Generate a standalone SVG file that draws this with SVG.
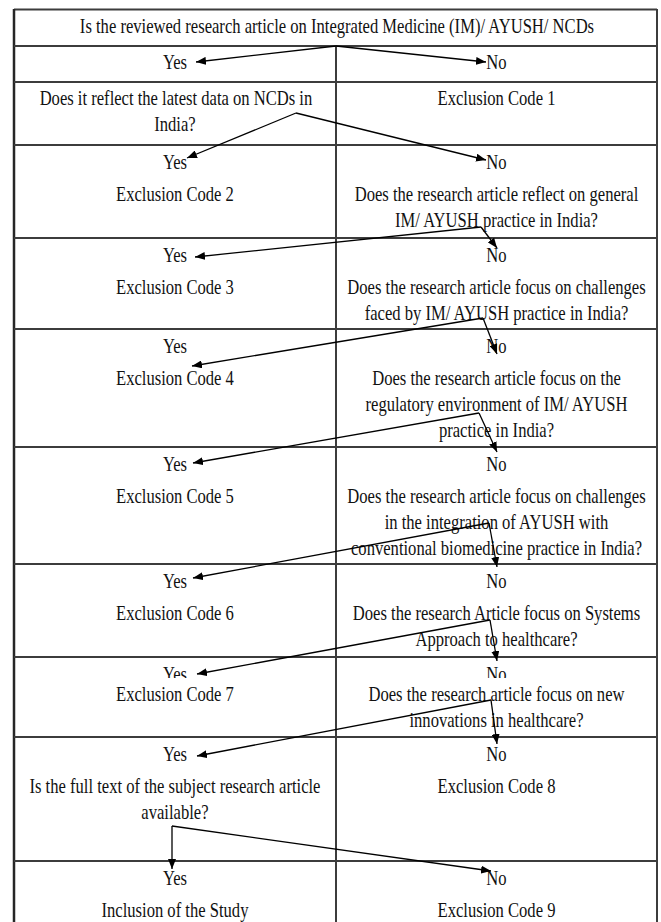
<svg xmlns="http://www.w3.org/2000/svg" width="661" height="922" viewBox="0 0 661 922">
<style>
.g{stroke:#3c3c3c;stroke-width:2;fill:none}
.gl{stroke:#262626;stroke-width:2.5;fill:none}
.c{stroke:#000;stroke-width:1.3;fill:none;marker-end:url(#ah)}
text{font-family:"Liberation Serif","Times New Roman",serif;font-size:20px;fill:#111;text-anchor:middle}
</style>
<defs>
<marker id="ah" markerUnits="userSpaceOnUse" markerWidth="10" markerHeight="8" refX="10" refY="4" orient="auto">
<path d="M0,0 L10,4 L0,8 z" fill="#000"/>
</marker>
</defs>
<rect x="0" y="0" width="661" height="922" fill="#fff"/>
<g id="grid">
<line class="g" x1="14" y1="9.5" x2="657" y2="9.5"/>
<line class="gl" x1="14" y1="9" x2="14" y2="922"/>
<line class="g" x1="657" y1="9" x2="657" y2="922"/>
<line class="g" x1="336" y1="46" x2="336" y2="922"/>
<line class="g" x1="14" y1="46" x2="657" y2="46"/>
<line class="g" x1="14" y1="82" x2="657" y2="82"/>
<line class="g" x1="14" y1="145" x2="657" y2="145"/>
<line class="g" x1="14" y1="238" x2="657" y2="238"/>
<line class="g" x1="14" y1="329" x2="657" y2="329"/>
<line class="g" x1="14" y1="447" x2="657" y2="447"/>
<line class="g" x1="14" y1="564" x2="657" y2="564"/>
<line class="g" x1="14" y1="657" x2="657" y2="657"/>
<line class="g" x1="14" y1="737" x2="657" y2="737"/>
<line class="g" x1="14" y1="861" x2="657" y2="861"/>
</g>
<g transform="scale(0.83,1)">
<g id="title"><text x="406" y="33">Is the reviewed research article on Integrated Medicine (IM)/ AYUSH/ NCDs</text></g>
<g id="yes1"><text x="210.8" y="69">Yes</text></g>
<g id="no1"><text x="598.2" y="69">No</text></g>
<g id="q1"><text x="212" y="105">Does it reflect the latest data on NCDs in</text><text x="210.8" y="131">India?</text></g>
<g id="ex1"><text x="598.2" y="105">Exclusion Code 1</text></g>
<g id="ex2"><text x="210.8" y="169">Yes</text><text x="210.8" y="201">Exclusion Code 2</text></g>
<g id="q2"><text x="598.2" y="169">No</text><text x="598.2" y="201">Does the research article reflect on general</text><text x="598.2" y="227">IM/ AYUSH practice in India?</text></g>
<g id="ex3"><text x="210.8" y="262">Yes</text><text x="210.8" y="294">Exclusion Code 3</text></g>
<g id="q3"><text x="598.2" y="262">No</text><text x="598.2" y="294">Does the research article focus on challenges</text><text x="598.2" y="320">faced by IM/ AYUSH practice in India?</text></g>
<g id="ex4"><text x="210.8" y="353">Yes</text><text x="210.8" y="385">Exclusion Code 4</text></g>
<g id="q4"><text x="598.2" y="353">No</text><text x="598.2" y="385">Does the research article focus on the</text><text x="598.2" y="411">regulatory environment of IM/ AYUSH</text><text x="598.2" y="437">practice in India?</text></g>
<g id="ex5"><text x="210.8" y="471">Yes</text><text x="210.8" y="503">Exclusion Code 5</text></g>
<g id="q5"><text x="598.2" y="471">No</text><text x="598.2" y="503">Does the research article focus on challenges</text><text x="598.2" y="529">in the integration of AYUSH with</text><text x="598.2" y="555">conventional biomedicine practice in India?</text></g>
<g id="ex6"><text x="210.8" y="588">Yes</text><text x="210.8" y="620">Exclusion Code 6</text></g>
<g id="q6"><text x="598.2" y="588">No</text><text x="598.2" y="620">Does the research Article focus on Systems</text><text x="598.2" y="646">Approach to healthcare?</text></g>
<g id="yesno7"><text x="210.8" y="681">Yes</text><text x="598.2" y="681">No</text></g>
</g>
<rect x="16" y="678" width="319" height="7" fill="#fff"/>
<rect x="337.5" y="678" width="318" height="7" fill="#fff"/>
<g transform="scale(0.83,1)">
<g id="ex7"><text x="210.8" y="701">Exclusion Code 7</text></g>
<g id="q7"><text x="598.2" y="701">Does the research article focus on new</text><text x="598.2" y="727">innovations in healthcare?</text></g>
<g id="q8"><text x="210.8" y="761">Yes</text><text x="210.8" y="793">Is the full text of the subject research article</text><text x="210.8" y="819">available?</text></g>
<g id="ex8"><text x="598.2" y="761">No</text><text x="598.2" y="793">Exclusion Code 8</text></g>
<g id="incl"><text x="210.8" y="885">Yes</text><text x="210.8" y="917">Inclusion of the Study</text></g>
<g id="ex9"><text x="598.2" y="885">No</text><text x="598.2" y="917">Exclusion Code 9</text></g>
</g>
<g id="connectors">
<line class="c" x1="336" y1="46" x2="196" y2="62"/>
<line class="c" x1="336" y1="46" x2="486" y2="62"/>
<line class="c" x1="296" y1="113" x2="187" y2="158"/>
<line class="c" x1="296" y1="113" x2="486" y2="160"/>
<line class="c" x1="481" y1="227" x2="195" y2="257"/>
<line class="c" x1="481" y1="227" x2="497" y2="248"/>
<line class="c" x1="483" y1="318" x2="192" y2="366"/>
<line class="c" x1="483" y1="318" x2="497" y2="354"/>
<line class="c" x1="479" y1="413" x2="193" y2="463"/>
<line class="c" x1="479" y1="413" x2="497" y2="452"/>
<line class="c" x1="489" y1="523" x2="193" y2="578"/>
<line class="c" x1="489" y1="523" x2="497" y2="567"/>
<line class="c" x1="490" y1="620" x2="197" y2="674"/>
<line class="c" x1="490" y1="620" x2="497" y2="661"/>
<line class="c" x1="491" y1="700" x2="197" y2="756"/>
<line class="c" x1="491" y1="700" x2="497" y2="744"/>
<line class="c" x1="172" y1="826" x2="172" y2="869"/>
<line class="c" x1="172" y1="826" x2="491" y2="871"/>
</g>
</svg>
